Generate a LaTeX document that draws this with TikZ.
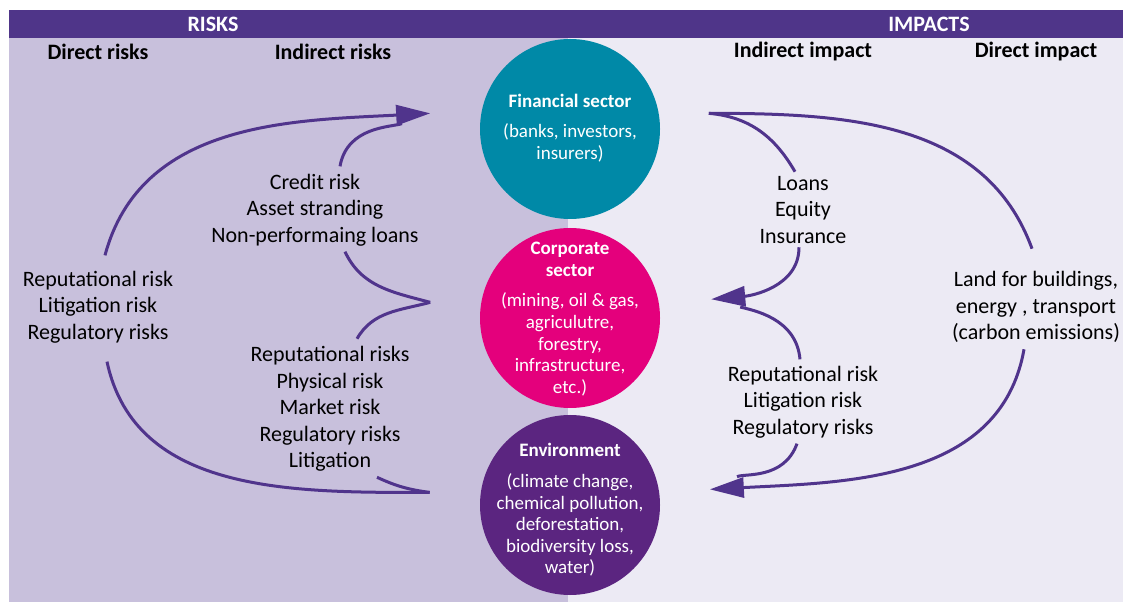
\documentclass[tikz,border=0pt]{standalone}
\usepackage{fontspec}
\setmainfont{Carlito}
\usetikzlibrary{arrows.meta,positioning}

\definecolor{headPurple}{RGB}{79,53,137}
\definecolor{riskLavender}{RGB}{200,192,220}
\definecolor{impactLavender}{RGB}{236,234,244}
\definecolor{finTeal}{RGB}{0,137,167}
\definecolor{corpMagenta}{RGB}{228,0,124}
\definecolor{envPurple}{RGB}{91,37,128}
\definecolor{flowPurple}{RGB}{80,52,140}

\begin{document}
\begin{tikzpicture}
            [x=1pt, y=1pt,
             sectorCircle/.style={circle,
                        minimum size=180pt,
                        inner sep=0pt},
             sectorText/.style={align=center,
                        text=white,
                        font=\fontsize{19}{21.6}\selectfont},
             headLabel/.style={font=\fontsize{22}{26}\selectfont\bfseries},
             riskList/.style={align=center,
                        font=\fontsize{22}{26.6}\selectfont},
             flow/.style={draw=flowPurple, line width=3pt},
             flowHead/.style={flow, -{Triangle[length=34pt,width=20pt]}}]

            \useasboundingbox (0,0) rectangle (1123,602);

            % panels
            \fill[riskLavender] (9,0) rectangle (568,564);
            \fill[impactLavender] (568,0) rectangle (1123,564);
            \fill[headPurple] (9,564) rectangle (1123,592);

            \node[headLabel, text=white] (risks) at (213,578) {RISKS};
            \node[headLabel, text=white] (impacts) at (929,578) {IMPACTS};
            \node[headLabel] (directRisks) at (98,550) {Direct risks};
            \node[headLabel] (indirectRisks) at (333,550) {Indirect risks};
            \node[headLabel] (indirectImpact) at (803,550) {Indirect impact};
            \node[headLabel] (directImpact) at (1036,550) {Direct impact};

            % sectors
            \node[sectorCircle, fill=finTeal] (financial) at (570,473) {};
            \node[sectorCircle, fill=corpMagenta] (corporate) at (570,284) {};
            \node[sectorCircle, fill=envPurple] (environment) at (570,97) {};

            \node[sectorText] (financialText) at (570,474) {\textbf{Financial sector}\\[9pt](banks, investors,\\insurers)};
            \node[sectorText] (corporateText) at (570,283) {\textbf{Corporate}\\\textbf{sector}\\[9pt](mining, oil \& gas,\\agriculutre,\\forestry,\\infrastructure,\\etc.)};
            \node[sectorText] (environmentText) at (570,92) {\textbf{Environment}\\[9pt](climate change,\\chemical pollution,\\deforestation,\\biodiversity loss,\\water)};

            % risk and impact lists
            \node[riskList] (directRiskList) at (98,295) {Reputational risk\\Litigation risk\\Regulatory risks};
            \node[riskList] (creditList) at (315,392) {Credit risk\\Asset stranding\\Non-performaing loans};
            \node[riskList] (physList) at (330,193) {Reputational risks\\Physical risk\\Market risk\\Regulatory risks\\Litigation};
            \node[riskList] (loansList) at (803,392) {Loans\\Equity\\Insurance};
            \node[riskList] (landList) at (1036,295) {Land for buildings,\\energy , transport\\(carbon emissions)};
            \node[riskList] (repRList) at (803,200) {Reputational risk\\Litigation risk\\Regulatory risks};

            \coordinate[left=51pt of financial.170] (finInL);
            \coordinate[left=51pt of corporate.170] (corpOutL);
            \coordinate[left=51pt of environment.172] (envOutL);
            \coordinate[right=50pt of financial.10] (finOutR);
            \coordinate[right=53pt of corporate.12] (corpInR);
            \coordinate[right=51pt of environment.10] (envInR);

            \draw[flowHead] ([shift={(7,12)}]directRiskList.north) to[out=75,in=183] (finInL);
            \draw[flow, shorten >=30pt] ([shift={(25,4)}]creditList.north) to[out=80,in=200] (finInL);
            \draw[flow] ([shift={(30,-2)}]creditList.south) to[out=-65,in=165] (corpOutL);
            \draw[flow] ([shift={(27,4)}]physList.north) to[out=60,in=195] (corpOutL);
            \draw[flow] ([shift={(9,-15)}]directRiskList.south) to[out=-78,in=180] (envOutL);
            \draw[flow] ([shift={(47,-2)}]physList.south) to[out=-25,in=172] (envOutL);

            \draw[flow] (finOutR) to[out=0,in=110] ([shift={(-4,19)}]landList.north);
            \draw[flow] (finOutR) to[out=-5,in=120] ([shift={(-8,1)}]loansList.north);
            \draw[flowHead] ([shift={(-4,0)}]loansList.south) to[out=-90,in=5] (corpInR);
            \draw[flow, shorten >=30pt] ([shift={(-3,3)}]repRList.north) to[out=95,in=-15] (corpInR);
            \draw[flowHead] ([shift={(-12,-3)}]landList.south) to[out=-100,in=3] (envInR);
            \draw[flow, shorten >=30pt] ([shift={(-6,-2)}]repRList.south) to[out=-110,in=25] (envInR);
        \end{tikzpicture}
\end{document}
